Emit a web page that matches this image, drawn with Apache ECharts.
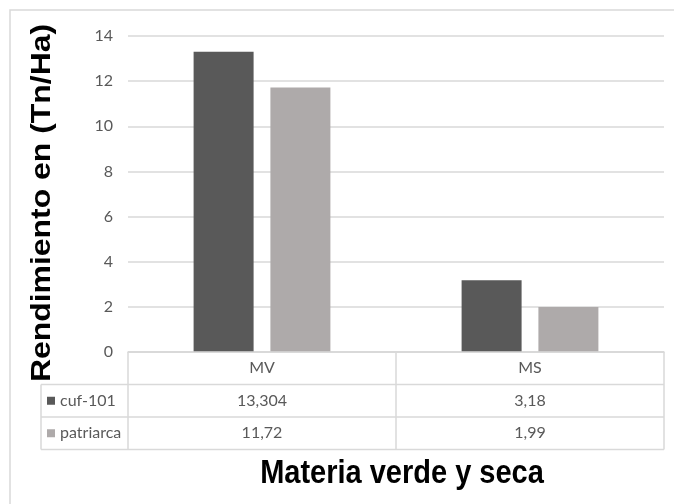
<!DOCTYPE html>
<html>
<head>
<meta charset="utf-8">
<script src="https://cdn.jsdelivr.net/npm/echarts@6/dist/echarts.min.js"></script>
<style>
  html, body { margin: 0; padding: 0; background: #ffffff; }
  #chart { width: 674px; height: 504px; }
</style>
</head>
<body>
<div id="chart"></div>
<script>
// Yield data (Tn/Ha) for green and dry matter
const categories = ['MV', 'MS'];
const seriesNames = ['cuf-101', 'patriarca'];
const cufValues = [13.304, 3.18];
const patriarcaValues = [11.72, 1.99];
const yMin = 0, yMax = 14, yStep = 2;
const xTitle = 'Materia verde y seca';
const yTitle = 'Rendimiento en (Tn/Ha)';

const barColors = ['#595959', '#AEAAAA'];
const textGray = '#595959';
const lineGray = '#D9D9D9';
const bodyFont = 'Lato, "Noto Sans", sans-serif';
const bodySize = 16;
const titleFont = '"Liberation Sans", Arial, sans-serif';

// decimal comma, as in the data table
const fmt = v => String(v).replace('.', ',');

// plot / table layout
const W = 674, H = 504;
const plot = { left: 128, right: 664, top: 36, bottom: 352 };
const rowH = 32.5;
const tableLeft = 41;
const tableRows = [plot.bottom, plot.bottom + rowH, plot.bottom + 2 * rowH, plot.bottom + 3 * rowH];
const midX = (plot.left + plot.right) / 2;

function line(x1, y1, x2, y2) {
  return { type: 'line', silent: true, z: 10,
    shape: { x1, y1, x2, y2 },
    style: { stroke: lineGray, lineWidth: 1.5 } };
}

const tableLines = [
  line(plot.left, tableRows[0], plot.right, tableRows[0]),
  line(tableLeft, tableRows[1], plot.right, tableRows[1]),
  line(tableLeft, tableRows[2], plot.right, tableRows[2]),
  line(tableLeft, tableRows[3], plot.right, tableRows[3]),
  line(tableLeft, tableRows[1], tableLeft, tableRows[3]),
  line(plot.left, tableRows[0], plot.left, tableRows[3]),
  line(midX, tableRows[0], midX, tableRows[3]),
  line(plot.right, tableRows[0], plot.right, tableRows[3])
];

const rowAxis = (values, offset) => ({
  type: 'category',
  data: categories,
  position: 'bottom',
  offset: offset,
  axisLine: { show: false },
  axisTick: { show: false },
  axisLabel: {
    interval: 0, margin: 16, verticalAlign: 'middle',
    color: textGray, fontSize: bodySize, fontFamily: bodyFont,
    formatter: (val, idx) => fmt(values[idx])
  }
});

const chart = echarts.init(document.getElementById('chart'), null, { renderer: 'canvas' });

chart.setOption({
  backgroundColor: '#ffffff',
  animation: false,
  grid: { left: plot.left, right: W - plot.right, top: plot.top, bottom: H - plot.bottom, containLabel: false },
  legend: {
    orient: 'vertical',
    left: 47, top: tableRows[1] + rowH / 2 - 8,
    padding: 0,
    itemWidth: 8, itemHeight: 8,
    itemGap: rowH - 16,
    icon: 'rect',
    selectedMode: false,
    data: seriesNames,
    textStyle: { color: textGray, fontSize: bodySize, fontFamily: bodyFont, lineHeight: 16 }
  },
  xAxis: [
    {
      type: 'category',
      data: categories,
      axisLine: { show: true, lineStyle: { color: lineGray, width: 1.5 } },
      axisTick: { show: false },
      axisLabel: { interval: 0, margin: 16, verticalAlign: 'middle', color: textGray, fontSize: bodySize, fontFamily: bodyFont }
    },
    rowAxis(cufValues, rowH),
    rowAxis(patriarcaValues, 2 * rowH)
  ],
  yAxis: {
    type: 'value',
    min: yMin, max: yMax, interval: yStep,
    axisLine: { show: false },
    axisTick: { show: false },
    axisLabel: { margin: 15, color: textGray, fontSize: bodySize, fontFamily: bodyFont },
    splitLine: { lineStyle: { color: lineGray, width: 1.5 } }
  },
  series: [
    { name: seriesNames[0], type: 'bar', data: cufValues, barWidth: 60, barGap: '28%',
      itemStyle: { color: barColors[0] } },
    { name: seriesNames[1], type: 'bar', data: patriarcaValues, barWidth: 60, barGap: '28%',
      itemStyle: { color: barColors[1] } }
  ],
  graphic: [
    { type: 'rect', silent: true, z: 0,
      shape: { x: 10, y: 10, width: 700, height: 600 },
      style: { fill: null, stroke: lineGray, lineWidth: 1.5 } },
    ...tableLines,
    { type: 'text', silent: true, z: 20,
      x: 402, y: 474, scaleY: 1.14,
      style: { text: xTitle, font: 'bold 29px ' + titleFont, fill: '#000000', align: 'center', verticalAlign: 'middle' } },
    { type: 'text', silent: true, z: 20,
      x: 42, y: 203, rotation: Math.PI / 2, scaleX: 1.14,
      style: { text: yTitle, font: 'bold 28px ' + titleFont, fill: '#000000', align: 'center', verticalAlign: 'middle' } }
  ]
});
</script>
</body>
</html>
